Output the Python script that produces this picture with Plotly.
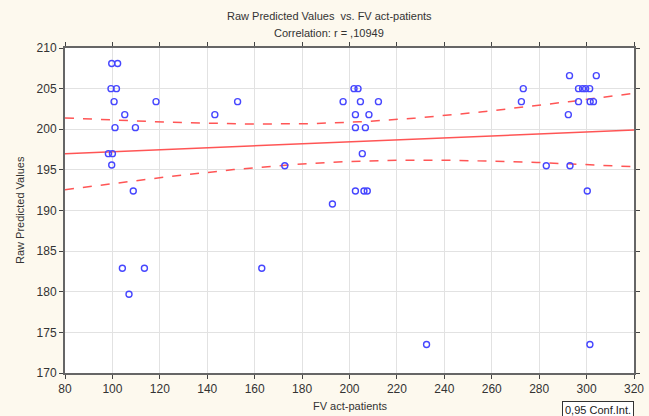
import numpy as np
import plotly.graph_objects as go

# FV act-patients (x) and Raw Predicted Values (y)
fv_act = [99.7, 102.2, 99.4, 101.7, 100.7, 105.2, 101.1, 109.7, 98.3, 100.0,
          99.7, 108.8, 104.2, 113.5, 107.0, 118.4, 143.2, 152.8, 163.0, 172.7,
          192.8, 197.3, 201.9, 203.6, 204.6, 212.2, 202.5, 208.2, 202.5, 206.7,
          205.4, 202.5, 206.1, 207.5, 232.5, 273.3, 272.5, 283.0, 292.8, 304.1,
          292.3, 293.0, 296.6, 298.3, 299.6, 301.3, 296.6, 301.5, 302.9, 300.3,
          301.4]
raw_pred = [208.1, 208.1, 205.0, 205.0, 203.4, 201.8, 200.2, 200.2, 197.0, 197.0,
            195.6, 192.4, 182.9, 182.9, 179.7, 203.4, 201.8, 203.4, 182.9, 195.5,
            190.8, 203.4, 205.0, 205.0, 203.4, 203.4, 201.8, 201.8, 200.2, 200.2,
            197.0, 192.4, 192.4, 192.4, 173.5, 205.0, 203.4, 195.5, 206.6, 206.6,
            201.8, 195.5, 205.0, 205.0, 205.0, 205.0, 203.4, 203.4, 203.4, 192.4,
            173.5]

x_ticks = list(range(80, 321, 20))
y_ticks = list(range(170, 211, 5))

x = np.array(fv_act)
y = np.array(raw_pred)
n = len(x)
slope, intercept = np.polyfit(x, y, 1)
xs = np.linspace(80, 320, 200)
yhat = intercept + slope * xs
resid = y - (intercept + slope * x)
s = np.sqrt(np.sum(resid ** 2) / (n - 2))
sxx = np.sum((x - x.mean()) ** 2)
tval = 2.01
half = tval * s * np.sqrt(1.0 / n + (xs - x.mean()) ** 2 / sxx)

red = "#ff5555"
blue = "#4646ff"
fig = go.Figure()
fig.add_trace(go.Scatter(x=xs, y=yhat + half, mode="lines",
                         line=dict(color=red, width=1.5, dash="dash"), showlegend=False))
fig.add_trace(go.Scatter(x=xs, y=yhat - half, mode="lines",
                         line=dict(color=red, width=1.5, dash="dash"), showlegend=False))
fig.add_trace(go.Scatter(x=xs, y=yhat, mode="lines",
                         line=dict(color=red, width=1.5), showlegend=False))
fig.add_trace(go.Scatter(x=fv_act, y=raw_pred, mode="markers",
                         marker=dict(symbol="circle-open", size=6, color=blue,
                                     line=dict(width=1.4, color=blue)),
                         showlegend=False))

font = "Liberation Sans, Arial, sans-serif"
axis_common = dict(showgrid=True, gridcolor="#e2e2e2", gridwidth=1,
                   showline=True, linecolor="#666666", linewidth=2, mirror="ticks",
                   ticks="outside", ticklen=4, tickcolor="#444444",
                   tickfont=dict(family=font, size=12, color="#333333"),
                   zeroline=False, automargin=False)
L, R, T, B = 65, 15, 48, 43
PH = 416 - T - B
PW = 649 - L - R
fig.update_layout(
    width=649, height=416,
    margin=dict(l=L, r=R, t=T, b=B, autoexpand=False),
    paper_bgcolor="#fdf9ee", plot_bgcolor="#ffffff",
    xaxis=dict(range=[80, 320], tickvals=x_ticks, **axis_common),
    yaxis=dict(range=[170, 210], tickvals=y_ticks, **axis_common),
)
tf = dict(family=font, size=11, color="#333333")
fig.add_annotation(xref="paper", yref="paper", x=(329 - L) / PW, y=1 + (T - 16) / PH,
                   xanchor="center", yanchor="middle", showarrow=False,
                   text="Raw Predicted Values  vs. FV act-patients", font=tf)
fig.add_annotation(xref="paper", yref="paper", x=(329 - L) / PW, y=1 + (T - 33) / PH,
                   xanchor="center", yanchor="middle", showarrow=False,
                   text="Correlation: r = ,10949", font=tf)
fig.add_annotation(xref="paper", yref="paper", x=(350 - L) / PW, y=(416 - B - 406) / PH,
                   xanchor="center", yanchor="middle", showarrow=False,
                   text="FV act-patients", font=tf)
fig.add_annotation(xref="paper", yref="paper", x=(20 - L) / PW, y=(416 - B - 210) / PH,
                   xanchor="center", yanchor="middle", showarrow=False, textangle=-90,
                   text="Raw Predicted Values", font=tf)
fig.add_annotation(xref="paper", yref="paper", x=(562 - L) / PW, y=(416 - B - 401) / PH,
                   xanchor="left", yanchor="top", showarrow=False,
                   text="0,95 Conf.Int.", font=dict(family=font, size=11, color="#222222"),
                   bordercolor="#333333", borderwidth=1, borderpad=2, bgcolor="#ffffff")
fig.write_html("out.html")
